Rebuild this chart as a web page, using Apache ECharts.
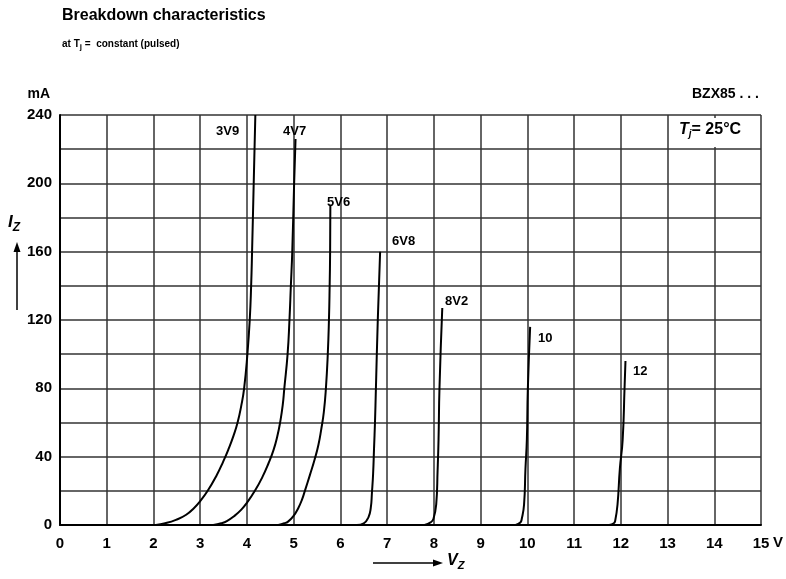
<!DOCTYPE html>
<html>
<head>
<meta charset="utf-8">
<script src="https://cdn.jsdelivr.net/npm/echarts@6/dist/echarts.min.js"></script>
<style>
html,body{margin:0;padding:0;background:#fff;}
#c{width:786px;height:579px;}
</style>
</head>
<body>
<div id="c"></div>
<script>
// ---- data (V in volts, I in mA) ----
var xTicks = [0,1,2,3,4,5,6,7,8,9,10,11,12,13,14,15];
var yTicks = [0,40,80,120,160,200,240];
var curveNames = ['3V9','4V7','5V6','6V8','8V2','10','12'];
var c3V9 = [[2.05,0],[2.25,1],[2.48,3],[2.7,6],[2.87,10],[3.0,14],[3.16,20],[3.35,29],[3.49,37],[3.6,44],[3.71,52],[3.8,60],[3.88,70],[3.94,80],[4.01,100],[4.06,120],[4.09,140],[4.11,160],[4.145,200],[4.18,240]];
var c4V7 = [[3.28,0],[3.45,1],[3.57,2.3],[3.74,5.5],[3.88,9],[4.0,13],[4.17,20],[4.33,28],[4.46,36],[4.57,44],[4.65,52],[4.71,60],[4.765,70],[4.80,80],[4.87,100],[4.91,120],[4.94,140],[4.97,160],[5.01,200],[5.04,226]];
var c5V6 = [[4.67,0],[4.8,1],[4.88,2],[4.99,5],[5.1,10],[5.18,15],[5.24,20],[5.35,29.5],[5.45,38.5],[5.53,47],[5.59,56],[5.645,66],[5.69,80],[5.73,100],[5.755,120],[5.77,140],[5.78,160],[5.785,187]];
var c6V8 = [[6.35,0],[6.5,1],[6.6,4.5],[6.65,10],[6.675,19],[6.70,30],[6.72,45],[6.74,60],[6.76,80],[6.80,120],[6.85,160]];
var c8V2 = [[7.80,0],[7.93,1.5],[7.99,3.5],[8.05,12],[8.08,32],[8.10,50],[8.12,80],[8.18,127]];
var c10  = [[9.75,0],[9.85,1.5],[9.88,3.5],[9.93,12],[9.96,33],[9.99,50],[10.01,79],[10.06,116]];
var c12  = [[11.75,0],[11.85,1],[11.88,2.5],[11.93,12],[11.98,33],[12.04,50],[12.08,80],[12.10,96]];
var curves = [c3V9,c4V7,c5V6,c6V8,c8V2,c10,c12];

// ---- layout / style (not data) ----
var labelBoxes = [[216,133],[283,133],[327,204],[392,243],[445,303],[538,340],[633,373]];
var FONT = '"Liberation Sans", Arial, sans-serif';

var chart = echarts.init(document.getElementById('c'), null, {renderer:'canvas'});

var series = curves.map(function(d,i){
  return {
    name: curveNames[i], type:'line', data:d, showSymbol:false, smooth:0.5,
    lineStyle:{color:'#000', width:2}, z:5, silent:true, animation:false
  };
});

var graphics = [
  {type:'text', left:62, top:8, style:{text:'Breakdown characteristics', font:'bold 16px '+FONT, fill:'#000'}},
  {type:'text', left:62, top:39, style:{text:'{a|at T}{s|j}{a| =  constant (pulsed)}', rich:{a:{font:'bold 10px '+FONT, fill:'#000'}, s:{font:'bold 8px '+FONT, fill:'#000', padding:[6,0,0,0]}}}},
  {type:'text', right:786-50, top:87, style:{text:'mA', font:'bold 14px '+FONT, fill:'#000', align:'right'}},
  {type:'text', left:692, top:87, style:{text:'BZX85 . . .', font:'bold 14px '+FONT, fill:'#000'}},
  {type:'text', left:773, top:535, style:{text:'V', font:'bold 15px '+FONT, fill:'#000'}},
  {type:'text', left:8, top:214, style:{text:'{i|I}{s|Z}', rich:{i:{font:'italic bold 17px '+FONT, fill:'#000'}, s:{font:'italic bold 12px '+FONT, fill:'#000', padding:[10,0,0,0]}}}},
  {type:'line', shape:{x1:17,y1:310,x2:17,y2:250}, style:{stroke:'#000', lineWidth:1.5}},
  {type:'polygon', shape:{points:[[17,242],[13.5,252],[20.5,252]]}, style:{fill:'#000'}},
  {type:'line', shape:{x1:373,y1:563,x2:434,y2:563}, style:{stroke:'#000', lineWidth:1.5}},
  {type:'polygon', shape:{points:[[443,563],[433,559.5],[433,566.5]]}, style:{fill:'#000'}},
  {type:'text', left:447, top:553, style:{text:'{i|V}{s|Z}', rich:{i:{font:'italic bold 16px '+FONT, fill:'#000'}, s:{font:'italic bold 11px '+FONT, fill:'#000', padding:[9,0,0,0]}}}},
  {type:'rect', shape:{x:674,y:118,width:70,height:29}, style:{fill:'#fff'}, z:3},
  {type:'text', left:679, top:122, z:4, style:{text:'{i|T}{s|j}{a|= 25°C}', rich:{i:{font:'italic bold 16px '+FONT, fill:'#000'}, s:{font:'italic bold 10px '+FONT, fill:'#000', padding:[9,0,0,0]}, a:{font:'bold 16px '+FONT, fill:'#000'}}}}
];
curveNames.forEach(function(n,i){
  graphics.push({type:'text', left:labelBoxes[i][0], top:labelBoxes[i][1]-8, z:6,
    style:{text:n, font:'bold 13px '+FONT, fill:'#000'}});
});

chart.setOption({
  animation:false,
  backgroundColor:'#fff',
  grid:{left:60, top:115, right:25, bottom:54, show:false},
  xAxis:{
    type:'value', min:0, max:15, interval:1,
    axisLine:{show:true, onZero:false, lineStyle:{color:'#000', width:2}},
    axisTick:{show:false},
    axisLabel:{margin:11, color:'#000', fontFamily:FONT, fontWeight:'bold', fontSize:15,
      formatter:function(v){ return xTicks.indexOf(v)>=0 ? String(v) : ''; }},
    splitLine:{show:true, lineStyle:{color:'#333', width:1.5}}
  },
  yAxis:{
    type:'value', min:0, max:240, interval:20,
    axisLine:{show:true, lineStyle:{color:'#000', width:2}},
    axisTick:{show:false},
    axisLabel:{margin:8, color:'#000', fontFamily:FONT, fontWeight:'bold', fontSize:15,
      formatter:function(v){ return yTicks.indexOf(v)>=0 ? String(v) : ''; }},
    splitLine:{show:true, lineStyle:{color:'#333', width:1.5}}
  },
  series:series,
  graphic:graphics
});
</script>
</body>
</html>
